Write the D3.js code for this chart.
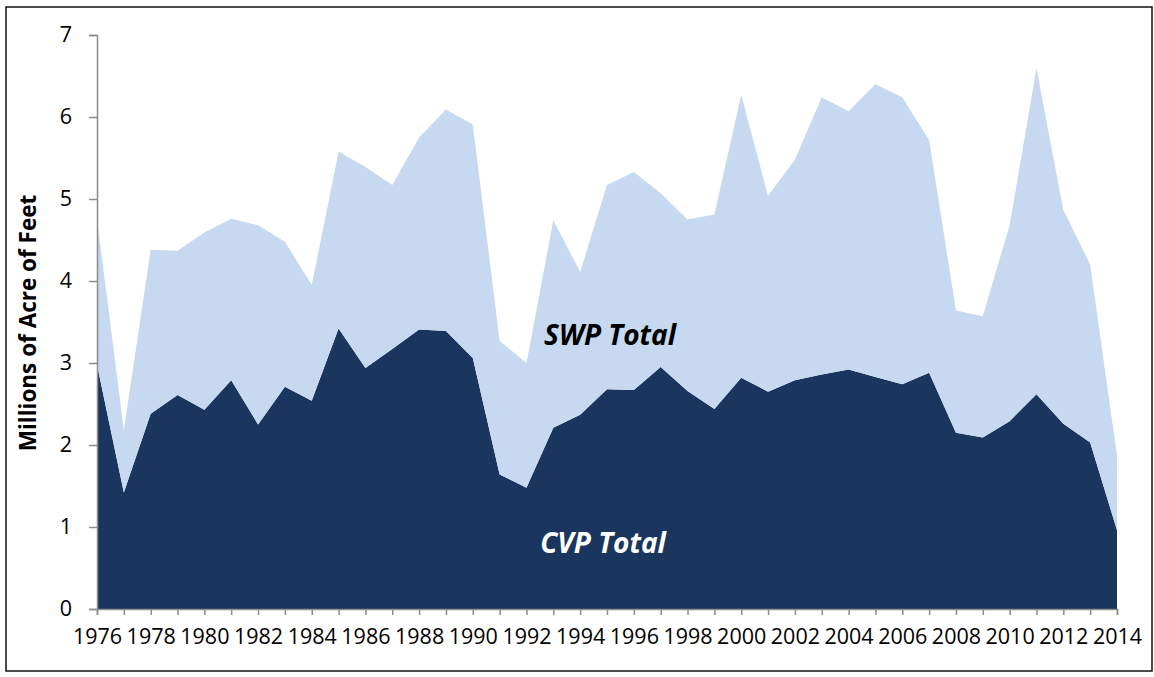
<!DOCTYPE html>
<html><head><meta charset="utf-8">
<script src="https://cdn.jsdelivr.net/npm/d3@7"></script>
<style>body{margin:0;background:#fff;} svg{display:block;}</style>
</head><body>
<svg id="chart" width="1154" height="677"></svg>
<script>
const years = d3.range(1976, 2015);
const cvpTotal = [2.98,1.42,2.38,2.61,2.43,2.79,2.25,2.71,2.54,3.42,2.94,3.17,3.41,3.39,3.06,1.64,1.48,2.21,2.37,2.68,2.67,2.95,2.66,2.44,2.82,2.65,2.79,2.86,2.92,2.83,2.74,2.88,2.15,2.09,2.29,2.62,2.26,2.03,0.96];
const swpTotal = [1.78,0.76,2.00,1.76,2.16,1.97,2.43,1.77,1.41,2.16,2.45,2.00,2.34,2.70,2.85,1.63,1.52,2.53,1.74,2.49,2.66,2.12,2.09,2.37,3.45,2.39,2.69,3.38,3.15,3.57,3.50,2.84,1.49,1.48,2.39,3.97,2.61,2.17,0.91];
const yTicks = [0,1,2,3,4,5,6,7];
const xTickLabels = d3.range(1976, 2015, 2);
const seriesNames = ["CVP Total", "SWP Total"];
const seriesColors = ["#1B365E", "#C6D9F1"];

const svg = d3.select("#chart");
const font = "'Open Sans', sans-serif";

svg.append("rect").attr("x",6).attr("y",7).attr("width",1146).attr("height",664)
  .attr("fill","#fff").attr("stroke","#111").attr("stroke-width",1.5);

const x = d3.scaleLinear().domain([1976, 2014]).range([97, 1117]);
const y = d3.scaleLinear().domain([0, 7]).range([609, 35]);

const rows = years.map((yr, i) => ({year: yr, "CVP Total": cvpTotal[i], "SWP Total": swpTotal[i]}));
const stack = d3.stack().keys(seriesNames)(rows);
const area = d3.area().x(d => x(d.data.year)).y0(d => y(d[0])).y1(d => y(d[1]));

svg.selectAll("path.layer").data(stack).join("path")
  .attr("class","layer").attr("d", area)
  .attr("fill", (d,i) => seriesColors[i]);

// Y axis
const yAxis = svg.append("g").attr("transform","translate(97,0)")
  .call(d3.axisLeft(y).tickValues(yTicks).tickSize(8).tickPadding(17).tickFormat(d3.format("d")));
yAxis.select(".domain").attr("stroke","#8c8c8c").attr("stroke-width",1.5);
yAxis.selectAll(".tick line").attr("stroke","#8c8c8c").attr("stroke-width",1.5);
yAxis.selectAll("text").attr("font-family",font).attr("font-size",21.5).attr("fill","#000");

// X axis
const xAxis = svg.append("g").attr("transform","translate(0,609)")
  .call(d3.axisBottom(x).tickValues(years).tickSize(6).tickFormat(d => xTickLabels.includes(d) ? d : ""));
xAxis.select(".domain").attr("stroke","#8c8c8c").attr("stroke-width",1.5);
xAxis.selectAll(".tick line").attr("stroke","#8c8c8c").attr("stroke-width",1.5);
xAxis.selectAll("text").attr("font-family",font).attr("font-size",21.5).attr("fill","#000").attr("dy","1.2em");

// Axis title
svg.append("text").attr("transform","translate(36,323) rotate(-90)")
  .attr("text-anchor","middle").attr("font-family",font).attr("font-weight","bold")
  .attr("font-size",22.5).attr("fill","#000").text("Millions of Acre of Feet");

// Series labels
svg.append("text").attr("x",610).attr("y",345).attr("text-anchor","middle")
  .attr("font-family",font).attr("font-weight","bold").attr("font-style","italic")
  .attr("font-size",28).attr("fill","#000").text(seriesNames[1]);
svg.append("text").attr("x",603).attr("y",553).attr("text-anchor","middle")
  .attr("font-family",font).attr("font-weight","bold").attr("font-style","italic")
  .attr("font-size",28).attr("fill","#fff").text(seriesNames[0]);
</script>
</body></html>
